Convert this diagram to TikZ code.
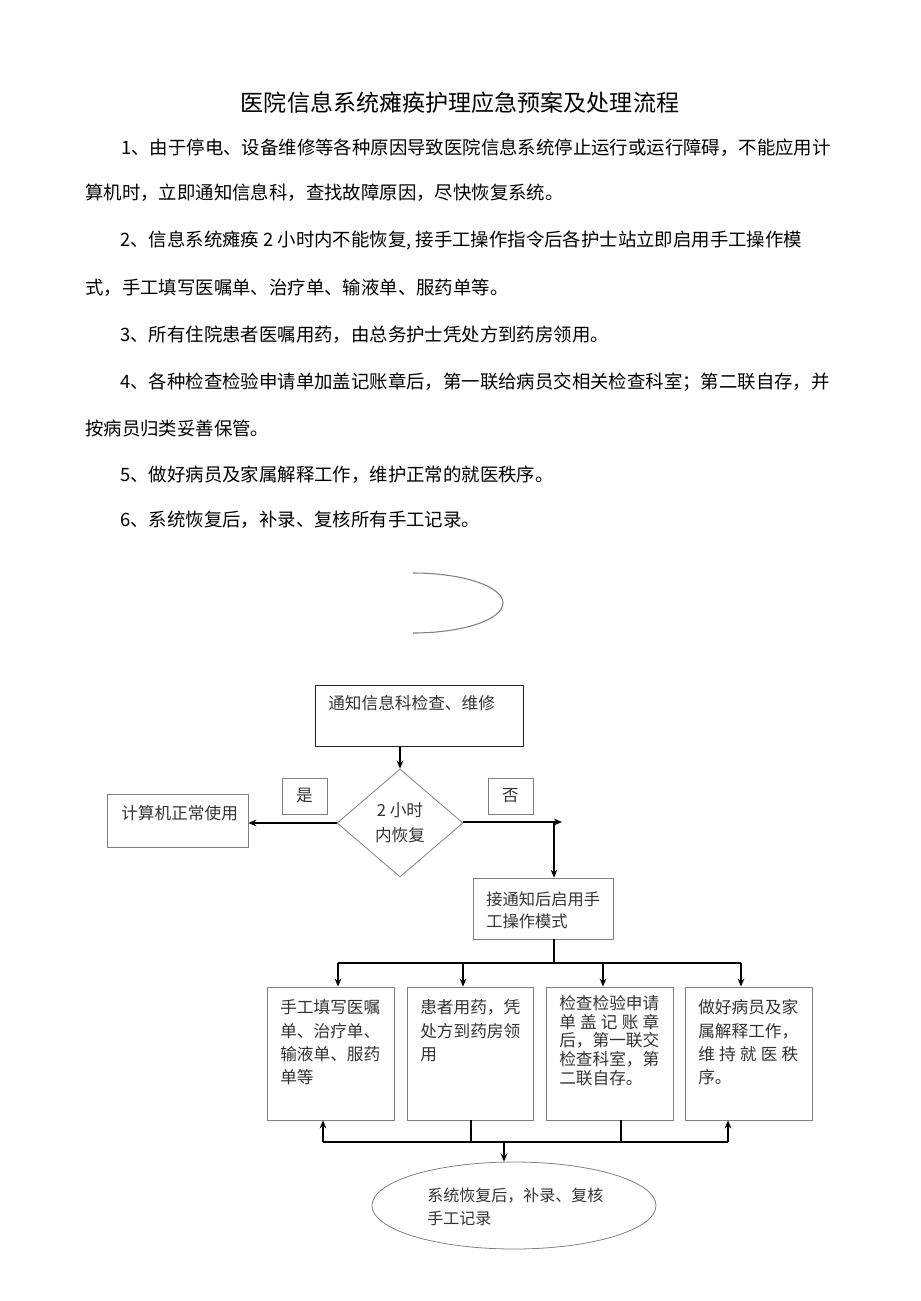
\documentclass[tikz,border=0pt]{standalone}
\usepackage{fontspec}
\setmainfont{Noto Sans CJK SC}
\usetikzlibrary{shapes.geometric,arrows.meta}

\begin{document}
\begin{tikzpicture}[x=0.75pt,y=-0.75pt,>={Stealth[length=6pt,width=5pt]},
  line/.style={anchor=west,inner sep=0pt,font=\fontsize{13.8}{16}\selectfont},
  box/.style={draw=black!50,line width=0.6pt,inner sep=0pt},
  note/.style={anchor=north west,inner sep=0pt,align=left,text=black!80,font=\fontsize{12.5}{17.5}\selectfont},
  flow/.style={->,line width=1pt}]
\useasboundingbox (0,0) rectangle (920,1301);

\node[inner sep=0pt,font=\fontsize{17.3}{20}\selectfont] (title) at (460,103) {医院信息系统瘫痪护理应急预案及处理流程};
\node[line] (p1) at (121,148) {1、由于停电、设备维修等各种原因导致医院信息系统停止运行或运行障碍，不能应用计};
\node[line] (p1b) at (85,193) {算机时，立即通知信息科，查找故障原因，尽快恢复系统。};
\node[line] (p2) at (120,240) {2、信息系统瘫痪 2 小时内不能恢复, 接手工操作指令后各护士站立即启用手工操作模};
\node[line] (p2b) at (85,288) {式，手工填写医嘱单、治疗单、输液单、服药单等。};
\node[line] (p3) at (120,335) {3、所有住院患者医嘱用药，由总务护士凭处方到药房领用。};
\node[line] (p4) at (120,382) {4、各种检查检验申请单加盖记账章后，第一联给病员交相关检查科室；第二联自存，并};
\node[line] (p4b) at (85,428) {按病员归类妥善保管。};
\node[line] (p5) at (120,475) {5、做好病员及家属解释工作，维护正常的就医秩序。};
\node[line] (p6) at (120,520) {6、系统恢复后，补录、复核所有手工记录。};

\draw[black!50,line width=0.8pt] (413,573) arc[start angle=-90,end angle=90,x radius=90,y radius=30];

\node[box,draw=black!85,minimum width=156pt,minimum height=45.75pt] (notify) at (419,715.5) {};
\node[note,anchor=west] (notifytext) at (328,703) {通知信息科检查、维修};
\node[box,diamond,minimum width=94.5pt,minimum height=81pt,aspect=1.17,text=black!80,font=\fontsize{12.5}{18.5}\selectfont,align=center] (cond) at (400,823) {2 小时\\内恢复};
\node[box,minimum width=33.75pt,minimum height=27pt,text=black!80,font=\fontsize{12.5}{15}\selectfont] (yes) at (304.5,796) {是};
\node[box,minimum width=33.75pt,minimum height=27pt,text=black!80,font=\fontsize{12.5}{15}\selectfont] (no) at (510.5,796) {否};
\node[box,minimum width=105.75pt,minimum height=39.75pt] (used) at (177.5,820.5) {};
\node[note,anchor=west] (usedtext) at (121,813) {计算机正常使用};
\node[box,minimum width=105pt,minimum height=45.75pt] (manual) at (543,908.5) {};
\node[note,font=\fontsize{12.2}{16.5}\selectfont] (manualtext) at (486,891.5) {接通知后启用手\\工操作模式};

\node[box,minimum width=95.25pt,minimum height=99.75pt] (fill) at (330.5,1053.5) {};
\node[box,minimum width=94.5pt,minimum height=99.75pt] (drug) at (470,1053.5) {};
\node[box,minimum width=95.25pt,minimum height=99.75pt] (exam) at (609.5,1053.5) {};
\node[box,minimum width=95.25pt,minimum height=99.75pt] (talk) at (748.5,1053.5) {};
\node[note] (filltext) at (280,999.5) {手工填写医嘱\\单、治疗单、\\输液单、服药\\单等};
\node[note] (drugtext) at (420,999.5) {患者用药，凭\\处方到药房领\\用};
\node[note,font=\fontsize{12.5}{13.9}\selectfont] (examtext) at (559,995.5) {检查检验申请\\\makebox[75pt][s]{单\hfill 盖\hfill 记\hfill 账\hfill 章}\\后，第一联交\\检查科室，第\\二联自存。};
\node[note] (talktext) at (698,999.5) {做好病员及家\\属解释工作，\\\makebox[75pt][s]{维\hfill 持\hfill 就\hfill 医\hfill 秩}\\序。};

\node[box,ellipse,minimum width=213pt,minimum height=65.25pt] (recover) at (514,1205.5) {};
\node[note,font=\fontsize{12}{17.25}\selectfont] (recovertext) at (427,1187.5) {系统恢复后，补录、复核\\手工记录};

\draw[flow] (cond.north |- notify.south) -- (cond.north);
\draw[flow] (cond.west) -- (cond.west -| used.east);
\coordinate (noend) at (562,822);
\coordinate (nodrop) at (554,822);
\draw[flow] (cond.east |- noend) -- (noend);
\draw[flow] (nodrop) -- (nodrop |- manual.north);

\coordinate (split) at (554,963);
\coordinate (d1) at (338,963);
\coordinate (d2) at (463,963);
\coordinate (d3) at (603,963);
\coordinate (d4) at (741,963);
\draw[line width=1pt] (split |- manual.south) -- (split);
\draw[line width=1pt] (d1) -- (d4);
\foreach \d/\b in {d1/fill,d2/drug,d3/exam,d4/talk}
  \draw[flow] (\d) -- (\d |- \b.north);

\coordinate (u1) at (323,1142);
\coordinate (u2) at (471,1142);
\coordinate (u3) at (621,1142);
\coordinate (u4) at (728,1142);
\coordinate (down) at (504,1142);
\draw[line width=1pt] (u1) -- (u4);
\draw[flow] (u1) -- (u1 |- fill.south);
\draw[flow] (u4) -- (u4 |- talk.south);
\draw[line width=0.8pt] (u2 |- drug.south) -- (u2);
\draw[line width=0.8pt] (u3 |- exam.south) -- (u3);
\draw[flow] (down) -- (down |- recover.north);
\end{tikzpicture}
\end{document}
